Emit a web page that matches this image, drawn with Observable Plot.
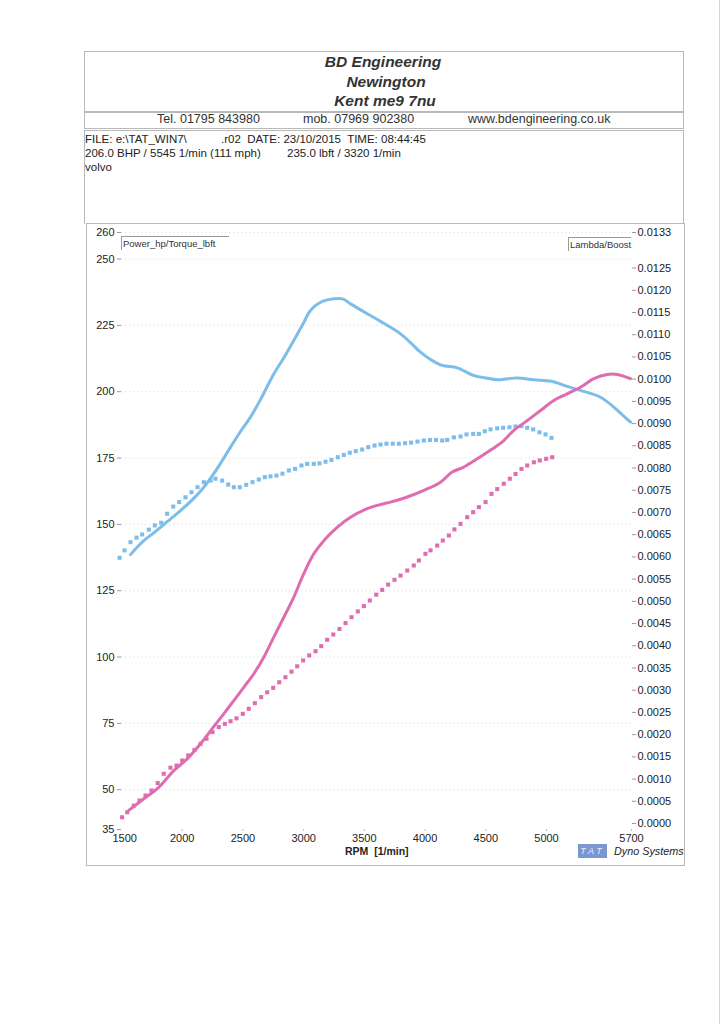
<!DOCTYPE html>
<html>
<head>
<meta charset="utf-8">
<script src="https://cdn.jsdelivr.net/npm/d3@7"></script>
<script src="https://cdn.jsdelivr.net/npm/@observablehq/plot@0.6"></script>
<style>
  html, body { margin: 0; padding: 0; background: #fff; }
  body { font-family: "Liberation Sans", Arial, sans-serif; color: #222; }
  #page { position: relative; width: 724px; height: 1024px; overflow: hidden; background: #fff; }
  .box { position: absolute; border: 1px solid #b9b9b9; box-sizing: border-box; }
  .t { position: absolute; white-space: pre; line-height: 1; }
  .hd { font-weight: bold; font-style: italic; font-size: 15.5px; color: #333; transform: translateX(-50%); }
  .tel { font-size: 12.5px; color: #333; }
  .info { font-size: 11.5px; color: #222; }
  .leg { position: absolute; border-top: 1px solid #999; border-left: 1px solid #999; font-size: 9.5px; line-height: 1; padding: 2px 0 0 1px; white-space: pre; color: #333; box-sizing: border-box; }
  #chart { position: absolute; left: 0; top: 223px; }
</style>
</head>
<body>
<div id="page">
  <div class="box" style="left:84px;top:51px;width:600px;height:61px;"></div>
  <div class="box" style="left:84px;top:112px;width:600px;height:17px;"></div>
  <div class="box" style="left:84px;top:130px;width:600px;height:94px;border-bottom:none;"></div>
  <div class="box" style="left:86px;top:223px;width:599px;height:643px;"></div>
  <div style="position:absolute;left:719px;top:0;width:1px;height:1024px;background:#d6d6d6;"></div>

  <div class="t hd" style="left:383px;top:54px;">BD Engineering</div>
  <div class="t hd" style="left:386px;top:74px;">Newington</div>
  <div class="t hd" style="left:385px;top:93px;">Kent me9 7nu</div>

  <div class="t tel" style="left:157px;top:113px;">Tel. 01795 843980</div>
  <div class="t tel" style="left:303px;top:113px;">mob. 07969 902380</div>
  <div class="t tel" style="left:468px;top:113px;">www.bdengineering.co.uk</div>

  <div class="t info" style="left:85px;top:134px;">FILE: e:\TAT_WIN7\</div>
  <div class="t info" style="left:221px;top:134px;">.r02  DATE: 23/10/2015  TIME: 08:44:45</div>
  <div class="t info" style="left:85px;top:148px;">206.0 BHP / 5545 1/min (111 mph)</div>
  <div class="t info" style="left:287px;top:148px;">235.0 lbft / 3320 1/min</div>
  <div class="t info" style="left:85px;top:162px;">volvo</div>

  <div id="chart"></div>

  <div class="leg" style="left:121px;top:236px;width:108px;height:14px;">Power_hp/Torque_lbft</div>
  <div class="leg" style="left:568px;top:237px;width:63px;height:14px;">Lambda/Boost</div>

  <div class="t" style="left:345px;top:846px;font-size:10.5px;font-weight:bold;color:#222;">RPM  [1/min]</div>
  <div style="position:absolute;left:578px;top:844px;width:29px;height:14px;background:#7b97d2;color:#e8eefa;font-size:9px;font-style:italic;line-height:14px;text-align:center;letter-spacing:3px;">TAT</div>
  <div class="t" style="left:614px;top:846px;font-size:10.8px;font-style:italic;color:#222;">Dyno Systems</div>
</div>

<script>
// ---- Data ----
// Solid blue: torque (lbft)
const torqueRpm = [1574,1629,1684,1766,1821,1876,1986,2095,2178,2260,2329,2398,2480,2562,2650,2754,2840,2919,3000,3056,3139,3248,3320,3386,3523,3633,3798,3880,3962,4050,4141,4265,4401,4500,4594,4680,4759,4895,5033,5170,5280,5445,5554,5620,5692];
const torqueVal = [138.6,141.4,143.9,146.8,148.9,151.0,155.2,159.8,164.0,169.1,174.0,179.1,185.0,190.4,197.5,206.7,213.0,219.3,226.0,230.6,233.7,235.0,235.0,233.1,229.4,226.5,221.8,218.5,214.9,212.0,209.9,209.0,206.1,205.2,204.5,204.9,205.2,204.5,204.0,202.0,200.5,197.9,194.2,191.5,188.5];

// Solid pink: power (hp)
const powerRpm = [1560,1684,1807,1931,2041,2151,2247,2342,2425,2507,2590,2672,2754,2837,2919,3001,3084,3180,3276,3386,3523,3633,3715,3853,3990,4127,4223,4319,4429,4553,4648,4731,4841,4951,5060,5170,5280,5390,5500,5582,5692];
const powerVal = [42.2,46.6,50.9,57.2,61.6,67.3,73.0,78.6,83.6,88.6,93.7,99.9,107.5,115.0,122.6,131.4,138.9,144.6,148.9,152.7,155.9,157.5,158.4,160.3,162.8,165.9,169.7,171.6,174.7,178.4,181.6,185.4,189.1,192.9,196.7,199.2,201.7,204.9,206.5,206.5,204.9];

// Dotted blue: comparison run torque
const torque2Rpm = [1484,1525,1574,1624,1670,1725,1774,1827,1876,1926,1975,2027,2076,2126,2178,2233,2274,2329,2379,2425,2474,2527,2579,2631,2680,2727,2776,2826,2878,2930,2982,3029,3084,3130,3180,3229,3281,3331,3380,3429,3482,3532,3584,3633,3682,3734,3784,3835,3885,3937,3990,4040,4090,4141,4182,4237,4292,4341,4396,4443,4492,4539,4594,4643,4695,4745,4794,4841,4890,4942,4992,5041];
const torque2Val = [137.4,140.2,143.3,145.0,146.2,148.0,149.6,150.6,154.0,156.7,158.4,160.2,162.1,164.0,165.9,166.5,167.2,166.5,165.0,164.0,164.0,164.9,165.9,166.9,167.8,168.1,168.4,169.1,170.3,170.9,172.2,172.8,172.8,173.0,173.6,174.3,175.3,176.2,177.0,177.6,178.2,179.1,179.7,180.1,180.4,180.4,180.4,180.6,180.8,181.2,181.6,181.8,181.8,181.6,181.8,182.8,183.1,183.9,184.1,184.1,185.1,185.8,186.2,186.4,186.6,186.9,187.0,186.4,185.8,184.7,183.9,182.6];

// Dotted pink: comparison run power
const power2Rpm = [1505,1547,1601,1648,1698,1747,1798,1848,1903,1953,2000,2049,2101,2151,2200,2249,2301,2351,2398,2447,2499,2548,2598,2650,2700,2749,2799,2850,2900,2947,2996,3046,3098,3145,3194,3244,3295,3345,3394,3446,3496,3545,3598,3647,3696,3748,3798,3853,3907,3949,4003,4045,4100,4146,4196,4242,4292,4347,4396,4443,4498,4547,4594,4648,4698,4745,4794,4841,4896,4945,4997,5047];
const power2Val = [39.6,41.5,44.0,45.9,47.8,49.7,52.5,56.0,58.3,59.1,61.0,62.9,65.0,67.3,69.2,71.7,73.6,74.8,75.8,76.9,78.6,80.5,82.6,84.9,86.7,88.4,90.5,92.4,94.5,96.5,98.7,100.6,102.2,104.1,106.5,108.5,110.6,112.8,115.0,117.2,119.2,121.3,123.5,125.3,127.3,129.1,130.7,132.6,134.5,136.4,138.9,140.2,142.0,143.9,145.8,148.1,150.2,152.7,154.6,156.5,158.4,161.5,163.3,165.3,167.2,169.0,170.9,172.2,173.4,174.1,174.7,175.3];

// Axis ticks
const xTicksFirst = [1500];
const xTicks = [2000,2500,3000,3500,4000,4500,5000,5700];
const leftTicks = [35,50,75,100,125,150,175,200,225,250,260];
const rightTicks = [0,0.0005,0.0010,0.0015,0.0020,0.0025,0.0030,0.0035,0.0040,0.0045,0.0050,0.0055,0.0060,0.0065,0.0070,0.0075,0.0080,0.0085,0.0090,0.0095,0.0100,0.0105,0.0110,0.0115,0.0120,0.0125,0.0133];
const rightLabels = ["0.0000","0.0005","0.0010","0.0015","0.0020","0.0025","0.0030","0.0035","0.0040","0.0045","0.0050","0.0055","0.0060","0.0065","0.0070","0.0075","0.0080","0.0085","0.0090","0.0095","0.0100","0.0105","0.0110","0.0115","0.0120","0.0125","0.0133"];

const blue = "#7cbde9";
const pink = "#e06cb0";

// ---- Build tables ----
const toRows = (rpm, val) => rpm.map((r, i) => ({rpm: r, v: val[i]}));
const torque = toRows(torqueRpm, torqueVal);
const power = toRows(powerRpm, powerVal);
const torque2 = toRows(torque2Rpm, torque2Val);
const power2 = toRows(power2Rpm, power2Val);

// Secondary (right) axis expressed in left-axis units
const rBase = 37.26, rTop = 260;
const toLeft = v => rBase + v / 0.0133 * (rTop - rBase);
const rightPos = rightTicks.map(toLeft);
const rightFmt = new Map(rightPos.map((p, i) => [p, rightLabels[i]]));

const chart = Plot.plot({
  width: 724,
  height: 643,
  marginLeft: 121,
  marginRight: 93,
  marginTop: 9,
  marginBottom: 37,
  x: {domain: [1500, 5700]},
  y: {domain: [35, 260]},
  style: {fontFamily: "'Liberation Sans', Arial, sans-serif", fontSize: "11px", color: "#222", background: "transparent", overflow: "visible"},
  marks: [
    Plot.gridY(leftTicks.slice(1), {stroke: "#aaa", strokeOpacity: 0.45, strokeDasharray: "1,3"}),
    Plot.axisY(leftTicks, {anchor: "left", tickSize: 4, tickPadding: 3, label: null, stroke: "#999", fill: "#222"}),
    Plot.axisY(rightPos, {anchor: "right", tickSize: 4, tickPadding: 2, label: null, stroke: "#999", fill: "#222", tickFormat: d => rightFmt.get(d)}),
    Plot.axisX(xTicksFirst, {anchor: "bottom", tickSize: 2, tickPadding: 3, label: null, stroke: "#bbb", fill: "#222", textAnchor: "start", dx: -9, tickFormat: d => String(d)}),
    Plot.axisX(xTicks, {anchor: "bottom", tickSize: 2, tickPadding: 3, label: null, stroke: "#bbb", fill: "#222", tickFormat: d => String(d)}),
    Plot.dot(torque2, {x: "rpm", y: "v", symbol: "square", r: 2.3, fill: blue}),
    Plot.dot(power2, {x: "rpm", y: "v", symbol: "square", r: 2.3, fill: pink}),
    Plot.line(torque, {x: "rpm", y: "v", stroke: blue, strokeWidth: 3, curve: "catmull-rom"}),
    Plot.line(power, {x: "rpm", y: "v", stroke: pink, strokeWidth: 3, curve: "catmull-rom"})
  ]
});
document.getElementById("chart").appendChild(chart);
</script>
</body>
</html>
